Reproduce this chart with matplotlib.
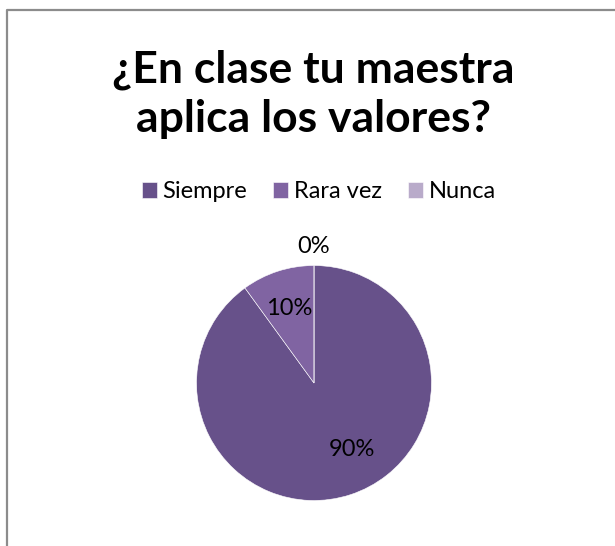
import matplotlib
matplotlib.use("Agg")
import matplotlib.pyplot as plt
from matplotlib.lines import Line2D
import numpy as np

title_lines = ["¿En clase tu maestra", "aplica los valores?"]
categories = ["Siempre", "Rara vez", "Nunca"]
values = [90, 10, 0]
colors = ["#67518A", "#8064A2", "#B9ABCA"]

W, H = 615, 546
fig = plt.figure(figsize=(W / 100, H / 100), dpi=100)
fig.patch.set_facecolor("white")

FONT = "Lato"

# border (top and left visible)
fig.add_artist(Line2D([7 / W, 7 / W, 1.0], [0.0, 1 - 10 / H, 1 - 10 / H],
                      transform=fig.transFigure, color="#8c8c8c", lw=1.6))

# title
for i, line in enumerate(title_lines):
    fig.text(313.5 / W, 1 - (82 + 50 * i) / H, line, ha="center", va="baseline",
             fontsize=32, fontweight="bold", family=FONT, color="black")

# pie
cx, cy, r = 314, 383, 117.5
ax = fig.add_axes([(cx - r) / W, (H - cy - r) / H, 2 * r / W, 2 * r / H])
wedges, texts, autotexts = ax.pie(
    values, colors=colors, startangle=90, counterclock=False,
    autopct=lambda p: f"{p:.0f}%", pctdistance=0.67,
    wedgeprops=dict(edgecolor="white", linewidth=0.4),
    textprops=dict(fontsize=17, family=FONT, color="black"))
ax.set_xlim(-1, 1)
ax.set_ylim(-1, 1)
ax.set_aspect("auto")
ax.axis("off")

# Excel-like label placement
autotexts[0].set_position((0.323, -0.57))
autotexts[2].set_position((0.0, 1.165))
for t in autotexts:
    t.set_ha("center")
    t.set_va("center")

# legend
fig.legend(wedges, categories, loc="center", bbox_to_anchor=(319 / W, 1 - 191.5 / H),
           ncol=3, frameon=False, prop=dict(family=FONT, size=17),
           handlelength=0.64, handleheight=0.64, handletextpad=0.25,
           columnspacing=1.1, borderaxespad=0, borderpad=0)

fig.savefig("out.png", dpi=100, facecolor="white")
